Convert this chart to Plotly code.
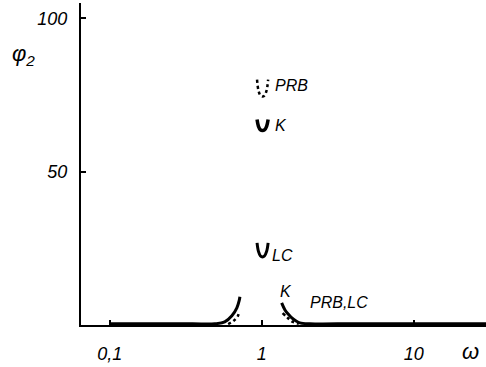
import plotly.graph_objects as go
import math

# ---- data ----
left_solid_w = [0.1, 0.2, 0.35, 0.49, 0.57, 0.635, 0.685, 0.71, 0.717]
left_solid_phi = [0.4, 0.4, 0.4, 0.4, 1.0, 3.0, 5.6, 8.0, 9.2]
left_dash_w = [0.6, 0.65, 0.695, 0.705]
left_dash_phi = [0.3, 1.3, 2.9, 3.9]

right_solid_w = [1.35, 1.42, 1.5, 1.575, 1.68, 1.78, 2.07, 4.0, 8.0, 30.0]
right_solid_phi = [7.2, 4.9, 3.4, 2.3, 1.3, 0.7, 0.4, 0.4, 0.4, 0.4]
right_dash_w = [1.37, 1.48, 1.6, 1.75]
right_dash_phi = [3.9, 2.3, 1.0, 0.4]

v_w = [0.93, 0.95, 0.98, 1.01, 1.04, 1.075, 1.10]
v_prb_phi = [80.0, 76.5, 74.8, 74.5, 74.8, 76.5, 80.0]
v_k_phi = [67.0, 64.8, 63.6, 63.4, 63.6, 64.8, 67.0]
v_lc_phi = [26.8, 24.0, 22.5, 22.2, 22.5, 24.0, 26.8]

tick_vals = [0.1, 1, 10]
tick_text = ["0,1", "1", "10"]
ytick_vals = [50, 100]
ytick_text = ["50", "100"]

labels = [("PRB", 1.18, 78.0), ("K", 1.18, 65.0), ("LC", 1.13, 22.8),
          ("K", 1.27, 11.0), ("PRB,LC", 2.0, 7.2)]

FONT = "Liberation Sans"
fig = go.Figure()

def line(x, y, dash="solid", width=3):
    fig.add_trace(go.Scatter(x=x, y=y, mode="lines",
                             line=dict(color="black", width=width, dash=dash, shape="spline"),
                             showlegend=False, hoverinfo="skip"))

line(left_solid_w, left_solid_phi, width=3)
line(left_dash_w, left_dash_phi, dash="dot", width=2.5)
line(right_solid_w, right_solid_phi, width=3)
line(right_dash_w, right_dash_phi, dash="dot", width=2.5)
line(v_w, v_prb_phi, dash="dot", width=2.5)
line(v_w, v_k_phi, width=3.5)
line(v_w, v_lc_phi, width=3)

for txt, xw, yv in labels:
    fig.add_annotation(x=math.log10(xw), y=yv, xref="x", yref="y", text="<i>%s</i>" % txt,
                       showarrow=False, xanchor="left", yanchor="middle",
                       font=dict(family=FONT, size=16, color="black"))

fig.add_annotation(x=0, y=0.84, xref="paper", yref="paper", text="<i>φ<sub>2</sub></i>",
                   showarrow=False, xanchor="center", yanchor="middle", xshift=-58,
                   font=dict(family=FONT, size=22, color="black"))
fig.add_annotation(x=0.962, y=0, xref="paper", yref="paper", text="<i>ω</i>",
                   showarrow=False, xanchor="center", yanchor="top", yshift=-12,
                   font=dict(family=FONT, size=22, color="black"))

fig.update_layout(
    width=486, height=367,
    margin=dict(l=81, r=0, t=3, b=42),
    paper_bgcolor="white", plot_bgcolor="white",
    xaxis=dict(type="log", range=[-1.19, 1.475], showgrid=False, zeroline=False,
               showline=True, linecolor="black", linewidth=2,
               tickvals=tick_vals, ticktext=["<i>%s</i>" % t for t in tick_text],
               ticks="inside", ticklen=5,
               tickcolor="black", tickwidth=1.5, ticklabelstandoff=11,
               tickfont=dict(family=FONT, size=18, color="black")),
    yaxis=dict(range=[0, 105], showgrid=False, zeroline=False,
               showline=True, linecolor="black", linewidth=2,
               tickvals=ytick_vals, ticktext=["<i>%s</i>" % t for t in ytick_text],
               ticks="inside", ticklen=5,
               tickcolor="black", tickwidth=1.5, ticklabelstandoff=8,
               tickfont=dict(family=FONT, size=18, color="black")),
)

fig.write_html("out.html")
